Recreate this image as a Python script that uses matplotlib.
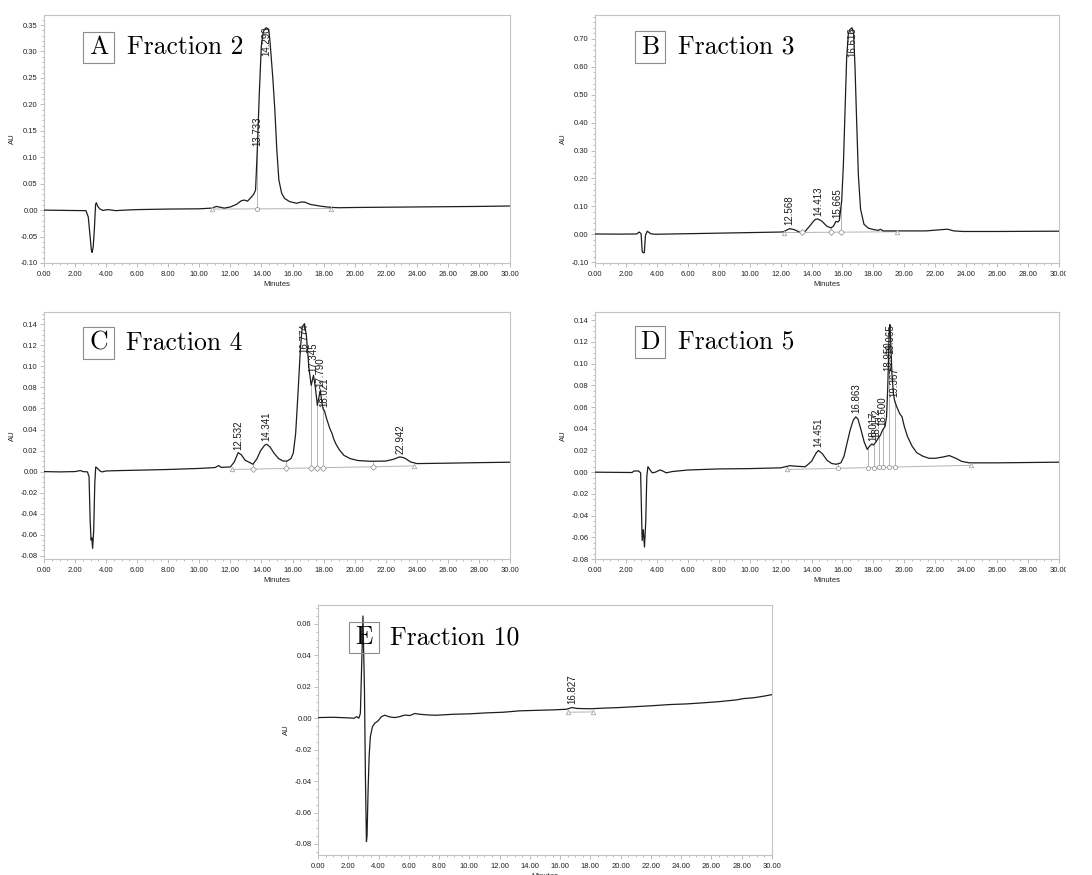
import numpy as np
import matplotlib
matplotlib.use("Agg")
import matplotlib.pyplot as plt
from matplotlib.patches import Rectangle
from matplotlib.ticker import MultipleLocator, FormatStrFormatter

plt.rcParams["font.family"] = ["Liberation Sans", "DejaVu Sans"]
plt.rcParams["axes.unicode_minus"] = False

# ---- Fraction 2 ----
a_time = [0, 1.5, 2.7, 2.85, 2.95, 3.05, 3.1, 3.17, 3.25, 3.32, 3.37, 3.45, 3.6, 3.8,
          4.1, 4.4, 4.6, 5.2, 6, 8, 10, 10.8, 11.1, 11.3, 11.6, 12.0, 12.4, 12.7, 12.9,
          13.1, 13.3, 13.5, 13.62, 13.73, 13.86, 13.99, 14.12, 14.3, 14.47, 14.56, 14.73,
          14.86, 14.99, 15.12, 15.3, 15.49, 15.82, 16.25, 16.6, 16.8, 17.12, 17.5, 17.78,
          18.2, 18.6, 19, 20, 24, 28, 30]
a_au = [0.000, -0.0006, -0.001, -0.013, -0.044, -0.076, -0.080, -0.069, -0.032, 0.011,
        0.014, 0.0076, 0.002, -0.0006, 0.001, 0.000, -0.001, 0.000, 0.001, 0.002, 0.0025,
        0.0038, 0.007, 0.0057, 0.0038, 0.006, 0.011, 0.0177, 0.019, 0.017, 0.023, 0.030,
        0.038, 0.113, 0.22, 0.31, 0.338, 0.345, 0.342, 0.315, 0.25, 0.19, 0.113, 0.057,
        0.032, 0.022, 0.016, 0.013, 0.0155, 0.015, 0.011, 0.009, 0.0076, 0.006, 0.005,
        0.0045, 0.005, 0.006, 0.007, 0.0078]
a_peaks = [13.733, 14.290]
a_cuts = [10.8, 13.733, 18.5]
a_base = [0.002, 0.003]

# ---- Fraction 3 ----
b_time = [0, 1.5, 2.7, 2.85, 2.98, 3.05, 3.1, 3.19, 3.26, 3.38, 3.6, 3.85, 6, 10, 12,
          12.2, 12.4, 12.57, 12.86, 13.1, 13.28, 13.6, 13.92, 14.1, 14.24, 14.4, 14.67,
          14.99, 15.25, 15.42, 15.57, 15.7, 15.8, 15.95, 16.06, 16.17, 16.27, 16.38, 16.5,
          16.62, 16.72, 16.81, 16.92, 17.03, 17.17, 17.39, 17.67, 17.99, 18.31, 18.46,
          18.63, 19.49, 21.4, 22.5, 22.8, 23.2, 23.8, 26, 30]
b_au = [0.001, 0.0005, 0.001, 0.008, 0.002, -0.060, -0.066, -0.066, -0.004, 0.011,
        0.002, 0.000, 0.002, 0.006, 0.008, 0.009, 0.015, 0.020, 0.017, 0.011, 0.006,
        0.011, 0.032, 0.045, 0.053, 0.055, 0.047, 0.029, 0.023, 0.029, 0.046, 0.044,
        0.050, 0.12, 0.25, 0.45, 0.63, 0.72, 0.735, 0.74, 0.72, 0.60, 0.40, 0.21, 0.09,
        0.036, 0.022, 0.017, 0.014, 0.018, 0.012, 0.012, 0.012, 0.017, 0.018, 0.012,
        0.010, 0.010, 0.011]
b_peaks = [12.568, 14.413, 15.665, 16.616]
b_cuts = [12.2, 13.4, 15.25, 15.9, 19.55]
b_base = [0.006, 0.009]

# ---- Fraction 4 ----
c_time = [0, 1.0, 2.0, 2.35, 2.5, 2.8, 2.9, 2.97, 3.03, 3.08, 3.13, 3.2, 3.27, 3.33,
          3.45, 3.6, 3.75, 4.0, 5, 6, 8, 10, 11.0, 11.25, 11.4, 12.0, 12.25, 12.5, 12.7,
          12.95, 13.2, 13.45, 13.7, 13.95, 14.2, 14.34, 14.55, 14.8, 15.1, 15.4, 15.65,
          15.9, 16.05, 16.2, 16.35, 16.5, 16.62, 16.77, 16.9, 17.05, 17.2, 17.35, 17.47,
          17.6, 17.68, 17.79, 17.9, 17.98, 18.05, 18.2, 18.4, 18.55, 18.65, 18.8, 19.0,
          19.3, 19.7, 20.2, 21.0, 22.0, 22.5, 22.9, 23.2, 23.6, 24.0, 26, 28, 30]
c_au = [0, -0.0003, 0, 0.001, 0, -0.0003, -0.005, -0.046, -0.065, -0.063, -0.073,
        -0.056, -0.011, 0.0044, 0.003, 0.0006, -0.0003, 0.0006, 0.001, 0.0013, 0.002,
        0.003, 0.0038, 0.0057, 0.004, 0.0044, 0.0092, 0.018, 0.016, 0.0108, 0.0089, 0.007,
        0.012, 0.020, 0.025, 0.026, 0.0234, 0.0177, 0.0124, 0.010, 0.010, 0.0124, 0.0177,
        0.036, 0.074, 0.115, 0.1375, 0.1406, 0.128, 0.0995, 0.082, 0.0915, 0.080, 0.063,
        0.0694, 0.077, 0.0646, 0.059, 0.058, 0.050, 0.041, 0.036, 0.031, 0.026, 0.021,
        0.0155, 0.0124, 0.0105, 0.0098, 0.010, 0.0117, 0.014, 0.013, 0.0092, 0.0076,
        0.008, 0.0085, 0.0089]
c_peaks = [12.532, 14.341, 16.774, 17.345, 17.790, 18.021, 22.942]
c_cuts = [12.1, 13.45, 15.6, 17.2, 17.6, 17.95, 21.2, 23.85]
c_base = [0.002, 0.0054]

# ---- Fraction 5 ----
d_time = [0, 2.4, 2.5, 2.8, 2.95, 3.05, 3.12, 3.2, 3.28, 3.35, 3.42, 3.55, 3.7, 3.9,
          4.2, 4.4, 4.6, 5, 6, 8, 10, 12, 12.3, 12.6, 13.0, 13.6, 14.0, 14.3, 14.45, 14.7,
          15.0, 15.3, 15.6, 15.9, 16.1, 16.3, 16.5, 16.7, 16.86, 17.0, 17.2, 17.4, 17.6,
          17.75, 17.9, 18.0, 18.17, 18.3, 18.45, 18.6, 18.75, 18.85, 18.92, 18.97, 19.02,
          19.07, 19.12, 19.2, 19.3, 19.37, 19.5, 19.7, 19.85, 20.0, 20.2, 20.5, 20.8, 21.2,
          21.6, 22.0, 22.5, 22.9, 23.3, 23.7, 24.2, 26, 30]
d_au = [0, -0.0003, 0.001, 0.0012, -0.0006, -0.063, -0.053, -0.069, -0.046, -0.0037,
        0.005, 0.0024, -0.0006, 0, 0.002, 0.001, -0.0006, 0.0006, 0.002, 0.003, 0.0033,
        0.004, 0.005, 0.006, 0.0055, 0.005, 0.010, 0.0177, 0.020, 0.017, 0.011, 0.008,
        0.0073, 0.0086, 0.0147, 0.027, 0.039, 0.048, 0.051, 0.049, 0.039, 0.028, 0.021,
        0.024, 0.026, 0.025, 0.028, 0.031, 0.034, 0.039, 0.042, 0.051, 0.075, 0.100,
        0.130, 0.136, 0.12, 0.09, 0.072, 0.066, 0.0605, 0.054, 0.051, 0.042, 0.033, 0.024,
        0.018, 0.0147, 0.0128, 0.0128, 0.014, 0.0153, 0.013, 0.010, 0.0086, 0.0086, 0.0092]
d_peaks = [14.451, 16.863, 18.017, 18.172, 18.600, 18.950, 19.065, 19.367]
d_cuts = [12.4, 15.7, 17.64, 18.02, 18.34, 18.62, 18.98, 19.38, 24.3]
d_base = [0.0025, 0.0063]

# ---- Fraction 10 ----
e_time = [0, 1, 2, 2.4, 2.55, 2.7, 2.8, 2.9, 2.97, 3.07, 3.13, 3.2, 3.24, 3.31, 3.38,
          3.46, 3.6, 3.75, 3.97, 4.19, 4.41, 4.74, 5.07, 5.4, 5.74, 6.07, 6.4, 6.73, 7.39,
          7.83, 8.93, 10.04, 11.14, 12.24, 13.35, 14.45, 15.55, 16.43, 16.77, 17.1, 17.98,
          18.86, 19.96, 21.07, 22.17, 23.27, 24.38, 25.48, 26.58, 27.69, 28.13, 28.79,
          29.45, 30]
e_au = [0.0004, 0.0006, 0.0002, 0, 0.001, 0, 0.003, 0.039, 0.065, 0.018, -0.035,
        -0.0785, -0.075, -0.046, -0.024, -0.0117, -0.0053, -0.0032, -0.0017, 0.001,
        0.0019, 0.0008, 0.0004, 0.001, 0.002, 0.0017, 0.003, 0.0025, 0.002, 0.0019,
        0.0025, 0.0028, 0.0034, 0.0038, 0.0047, 0.005, 0.0053, 0.0057, 0.0068, 0.0062,
        0.006, 0.0064, 0.0068, 0.0074, 0.008, 0.0087, 0.0091, 0.0098, 0.0106, 0.0117,
        0.0125, 0.013, 0.014, 0.015]
e_peaks = [16.827]
e_cuts = [16.5, 18.15]
e_base = [0.0038, 0.0040]

letters = ["A", "B", "C", "D", "E"]
titles = ["Fraction 2", "Fraction 3", "Fraction 4", "Fraction 5", "Fraction 10"]

W, H = 1092, 875
fig = plt.figure(figsize=(W / 100, H / 100), dpi=100)


def px_axes(left, right, top, bottom):
    return fig.add_axes([left / W, 1 - bottom / H, (right - left) / W, (bottom - top) / H])


panels = [
    dict(rect=(44, 510, 15, 263), t=a_time, y=a_au, peaks=a_peaks, cuts=a_cuts, base=a_base,
         ylim=(-0.10, 0.369), major=0.05, minor=0.01, mid="o",
         box=(0.084, 0.806, 0.066, 0.125), ftx=0.178),
    dict(rect=(595, 1059, 15, 263), t=b_time, y=b_au, peaks=b_peaks, cuts=b_cuts, base=b_base,
         ylim=(-0.103, 0.786), major=0.10, minor=0.02, mid="D",
         box=(0.086, 0.806, 0.065, 0.129), ftx=0.179),
    dict(rect=(44, 510, 312, 559), t=c_time, y=c_au, peaks=c_peaks, cuts=c_cuts, base=c_base,
         ylim=(-0.0831, 0.1517), major=0.02, minor=0.005, mid="D",
         box=(0.084, 0.810, 0.066, 0.129), ftx=0.176),
    dict(rect=(595, 1059, 312, 559), t=d_time, y=d_au, peaks=d_peaks, cuts=d_cuts,
         base=d_base, ylim=(-0.08, 0.1476), major=0.02, minor=0.005, mid="o",
         box=(0.086, 0.814, 0.065, 0.129), ftx=0.179),
    dict(rect=(318, 772, 605, 855), t=e_time, y=e_au, peaks=e_peaks, cuts=e_cuts, base=e_base,
         ylim=(-0.087, 0.072), major=0.02, minor=0.005, mid="o",
         box=(0.068, 0.808, 0.066, 0.124), ftx=0.159),
]

grey = "#b4b4b4"
label_kw = dict(rotation=90, ha="center", fontsize=7, color="#1a1a1a", zorder=5)
label_sets = []
for p, letter, title in zip(panels, letters, titles):
    ax = px_axes(*p["rect"])
    t = np.asarray(p["t"], float)
    y = np.asarray(p["y"], float)
    ax.plot(t, y, color="#1e1e1e", lw=0.9, zorder=3)
    ax.set_xlim(0, 30)
    ax.set_ylim(*p["ylim"])

    # integration baseline, drop lines and markers
    cuts = p["cuts"]
    bx = [cuts[0], cuts[-1]]
    ax.plot(bx, p["base"], color=grey, lw=0.7, zorder=2)
    for c in cuts[1:-1]:
        yb = np.interp(c, bx, p["base"])
        yc = np.interp(c, t, y)
        ax.plot([c, c], [yb, yc], color=grey, lw=0.7, zorder=2)
        ax.plot(c, yb, marker=p["mid"], ms=3, mfc="white", mec="#9a9a9a", mew=0.6, zorder=4)
    for c, yb in zip(bx, p["base"]):
        ax.plot(c, yb, marker="^", ms=3.2, mfc="white", mec="#a8a8a8", mew=0.6, zorder=4)

    # retention-time labels
    texts = []
    for rt in p["peaks"]:
        yv = np.interp(rt, t, y)
        txt = ax.annotate(f"{rt:.3f}", xy=(rt, yv), xytext=(0, 2.5), textcoords="offset points",
                          va="bottom", **label_kw)
        texts.append((rt, txt))
    label_sets.append((ax, texts))

    # axes styling
    ax.xaxis.set_major_locator(MultipleLocator(2))
    ax.xaxis.set_minor_locator(MultipleLocator(0.5))
    ax.xaxis.set_major_formatter(FormatStrFormatter("%.2f"))
    ax.yaxis.set_major_locator(MultipleLocator(p["major"]))
    ax.yaxis.set_minor_locator(MultipleLocator(p["minor"]))
    ax.yaxis.set_major_formatter(FormatStrFormatter("%.2f"))
    ax.tick_params(which="both", direction="out", color="#a0a0a0", width=0.5,
                   labelsize=5.5, labelcolor="#222222")
    ax.tick_params(axis="x", pad=3)
    ax.tick_params(axis="y", pad=1.5)
    ax.tick_params(which="major", length=3)
    ax.tick_params(which="minor", length=1.6)
    for s in ax.spines.values():
        s.set_color("#c4c4c4")
        s.set_linewidth(0.8)
    ax.set_xlabel("Minutes", fontsize=5.5, labelpad=2, color="#222222")
    ax.set_ylabel("AU", fontsize=5.5, labelpad=3.5, color="#222222")

    # panel title
    bx0, by0, bw, bh = p["box"]
    ax.add_patch(Rectangle((bx0, by0), bw, bh, transform=ax.transAxes, fill=False,
                           edgecolor="#8c8c8c", lw=0.8, zorder=6))
    ax.text(bx0 + bw / 2, by0 + bh / 2, letter, transform=ax.transAxes, ha="center",
            va="center", fontsize=18.5, family="cmr10", zorder=6)
    ax.text(p["ftx"], by0 + bh / 2, title, transform=ax.transAxes, ha="left",
            va="center", fontsize=18.5, family="cmr10", zorder=6)

# labels that would run past the top of the plot area are pinned just under it
fig.canvas.draw()
renderer = fig.canvas.get_renderer()
for ax, texts in label_sets:
    axbb = ax.get_window_extent(renderer)
    for rt, txt in texts:
        bb = txt.get_window_extent(renderer)
        if bb.y1 > axbb.y1 - 10:
            label = txt.get_text()
            txt.remove()
            ax.annotate(label, xy=(rt, 1), xycoords=("data", "axes fraction"),
                        xytext=(0, -8.5), textcoords="offset points", va="top", **label_kw)

# the right-hand column is trimmed just past its last tick label
fig.add_artist(Rectangle((1066 / W, 1 - 600 / H), 1 - 1066 / W, 600 / H,
                         transform=fig.transFigure, facecolor="white", edgecolor="none",
                         zorder=100))

fig.savefig("out.png", dpi=100, facecolor="white")
